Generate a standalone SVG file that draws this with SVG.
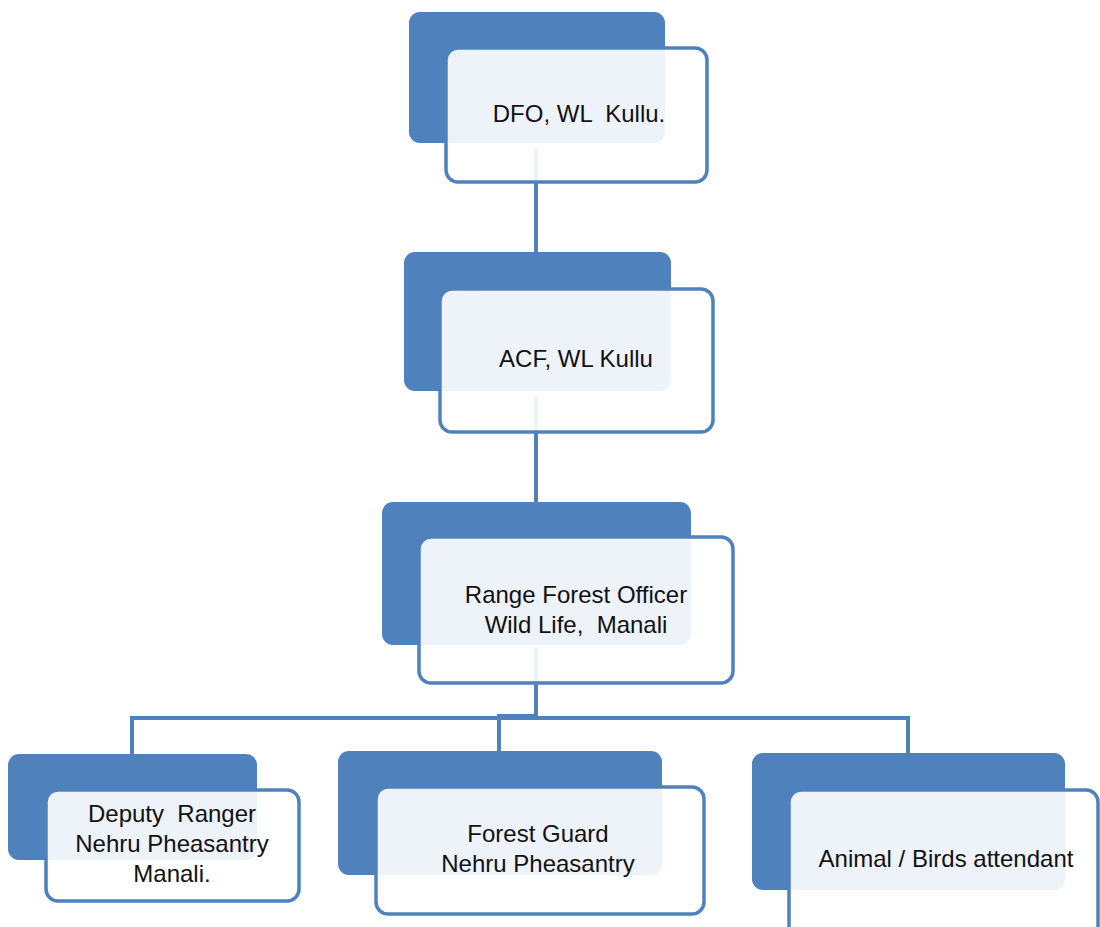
<svg xmlns="http://www.w3.org/2000/svg" width="1100" height="927" viewBox="0 0 1100 927">
<style>
.back{fill:#4F81BD;}
.front{fill:#FFFFFF;fill-opacity:0.9;stroke:#4F81BD;stroke-width:3.5;}
.lbl{font-family:"Liberation Sans",Arial,sans-serif;font-size:24px;fill:#111111;text-anchor:middle;white-space:pre;}
.conn{fill:none;stroke:#4F81BD;stroke-width:4;}
</style>
<rect width="1100" height="927" fill="#FFFFFF"/>
<g id="connectors">
<path class="conn" d="M536 148 V252"/>
<path class="conn" d="M536 396 V502"/>
<path class="conn" d="M536 648 V718"/>
<path class="conn" d="M132 754 V718 H908 V753"/>
<path class="conn" d="M499 751 V716 H537"/>
</g>
<g id="node-dfo">
<rect class="back" x="409" y="12" width="256" height="131" rx="11"/>
<rect class="front" x="446" y="48" width="261" height="134" rx="12"/>
<text class="lbl" x="579" y="122" xml:space="preserve">DFO, WL  Kullu.</text>
</g>
<g id="node-acf">
<rect class="back" x="404" y="252" width="267" height="139" rx="11"/>
<rect class="front" x="440" y="289" width="273" height="143" rx="12"/>
<text class="lbl" x="576" y="367">ACF, WL Kullu</text>
</g>
<g id="node-rfo">
<rect class="back" x="382" y="502" width="309" height="143" rx="11"/>
<rect class="front" x="419" y="537" width="314" height="146" rx="12"/>
<text class="lbl" x="576" y="603">Range Forest Officer</text>
<text class="lbl" x="576" y="633" xml:space="preserve">Wild Life,  Manali</text>
</g>
<g id="node-deputy">
<rect class="back" x="8" y="754" width="249" height="106" rx="11"/>
<rect class="front" x="46" y="790" width="253" height="111" rx="12"/>
<text class="lbl" x="172" y="822" xml:space="preserve">Deputy  Ranger</text>
<text class="lbl" x="172" y="852">Nehru Pheasantry</text>
<text class="lbl" x="172" y="882">Manali.</text>
</g>
<g id="node-guard">
<rect class="back" x="338" y="751" width="324" height="124" rx="11"/>
<rect class="front" x="376" y="787" width="328" height="127" rx="12"/>
<text class="lbl" x="538" y="842">Forest Guard</text>
<text class="lbl" x="538" y="872">Nehru Pheasantry</text>
</g>
<g id="node-attendant">
<rect class="back" x="752" y="753" width="313" height="137" rx="11"/>
<rect class="front" x="789" y="790" width="309" height="150" rx="12"/>
<text class="lbl" x="946" y="867">Animal / Birds attendant</text>
</g>
</svg>
